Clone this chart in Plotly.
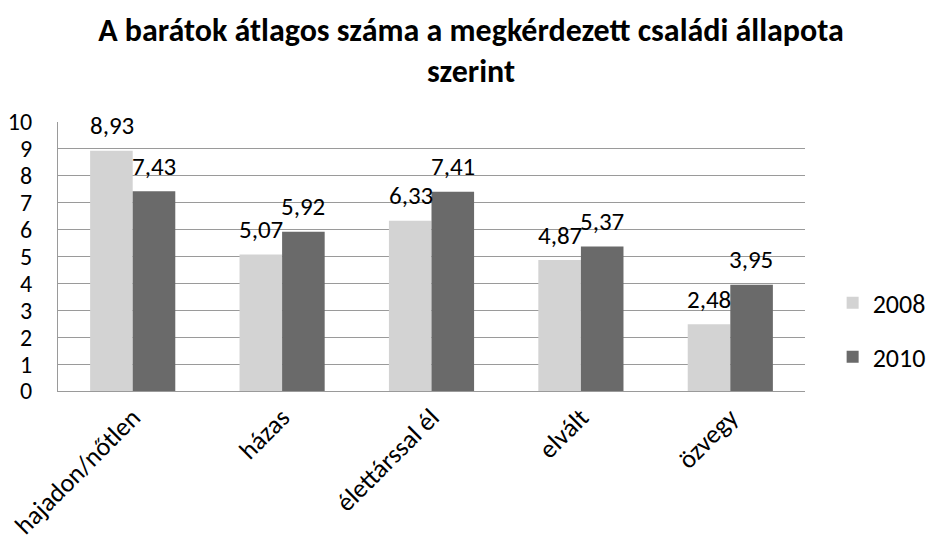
import plotly.graph_objects as go

categories = ["hajadon/nőtlen", "házas", "élettárssal él", "elvált", "özvegy"]
values_2008 = [8.93, 5.07, 6.33, 4.87, 2.48]
values_2010 = [7.43, 5.92, 7.41, 5.37, 3.95]
series_names = ["2008", "2010"]
y_ticks = list(range(0, 11))

FONT = "Carlito, Calibri, Lato, sans-serif"
C2008 = "#d3d3d3"
C2010 = "#6a6a6a"
GRID = "#9a9a9a"

fig = go.Figure()
fig.add_trace(go.Bar(x=categories, y=values_2008, name=series_names[0],
                     marker=dict(color=C2008, line=dict(width=0)),
                     legendgroup="a"))
fig.add_trace(go.Bar(x=categories, y=values_2010, name=series_names[1],
                     marker=dict(color=C2010, line=dict(width=0)),
                     legendgroup="b"))

def fmt(v):
    return f"{v:.2f}".replace(".", ",")

half = 21
for vals, shift in ((values_2008, -half), (values_2010, half)):
    for c, v in zip(categories, vals):
        fig.add_annotation(x=c, y=v, text=fmt(v), showarrow=False,
                           xshift=shift, yshift=25, yanchor="middle",
                           font=dict(family=FONT, size=25, color="#000"))

fig.update_layout(
    width=926, height=548,
    paper_bgcolor="white", plot_bgcolor="white",
    margin=dict(l=50, r=129, t=114, b=165, autoexpand=False),
    barmode="group", bargap=0.43, bargroupgap=0,
    title=dict(text="<b>A barátok átlagos száma a megkérdezett családi állapota<br>szerint</b>",
               x=0.5, xanchor="center", xref="container",
               y=0.94, yanchor="top", yref="container",
               font=dict(family=FONT, size=32, color="#000")),
    font=dict(family=FONT, size=24, color="#000"),
    legend=dict(x=1.037, xanchor="left", y=0.227, yanchor="middle",
                traceorder="grouped", tracegroupgap=17,
                font=dict(family=FONT, size=26, color="#000"),
                bgcolor="rgba(0,0,0,0)"),
    showlegend=True,
)
fig.update_yaxes(range=[0, 10], tickvals=y_ticks, showgrid=True,
                 gridcolor=GRID, gridwidth=1, showline=True,
                 linecolor=GRID, linewidth=1, zeroline=False,
                 ticks="", ticklabelstandoff=20, automargin=False,
                 tickfont=dict(family=FONT, size=24, color="#000"))
fig.update_xaxes(showline=True, linecolor=GRID, linewidth=1,
                 tickangle=-45, ticks="", showgrid=False, automargin=False,
                 tickfont=dict(family=FONT, size=26, color="#000"))

fig.write_html("out.html")
